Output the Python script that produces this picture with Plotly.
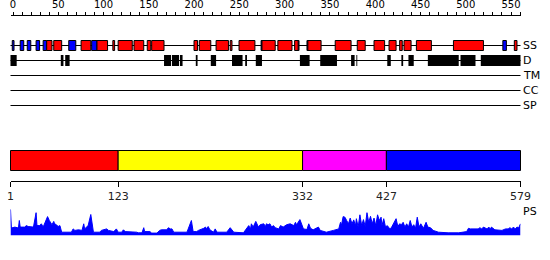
import plotly.graph_objects as go

# ---------------- data ----------------
SEQ_LEN = 579
ruler_ticks = list(range(0, 561, 10))          # ruler ticks (labels every 50)
ruler_labels = [str(v) if v % 50 == 0 else "" for v in ruler_ticks]

helix = [(42, 48), (50, 59), (81, 92), (99, 111), (117, 119), (123, 139), (141, 152),
         (156, 160), (161, 175), (209, 213), (215, 228), (234, 248), (250, 252),
         (260, 278), (286, 301), (304, 320), (323, 327), (338, 353), (369, 387),
         (394, 403), (413, 425), (430, 438), (442, 445), (447, 455), (461, 478),
         (503, 537), (572, 575)]
strand = [(3, 5), (12, 16), (20, 24), (30, 34), (38, 42), (67, 75), (93, 99),
          (285, 286), (327, 328), (337, 338), (559, 563)]
disorder = [(1, 8), (58, 61), (63, 68), (175, 183), (184, 192), (193, 196), (211, 213),
            (228, 234), (252, 264), (267, 269), (279, 286), (329, 340), (352, 371),
            (387, 391), (393, 394), (428, 432), (444, 446), (452, 458), (474, 509),
            (511, 528), (534, 579)]
track_names = ["SS", "D", "TM", "CC", "SP"]

domain_bounds = [1, 123, 332, 427, 579]
domain_colors = ["#ff0000", "#ffff00", "#ff00ff", "#0000ff"]

ps_residue = [1, 2, 6, 10, 11, 12, 17, 19, 21, 25, 27, 30, 31, 34, 36, 38, 40, 43, 45, 48,
              50, 51, 53, 55, 57, 59, 65, 70, 72, 74, 78, 82, 84, 85, 89, 92, 95, 99, 102,
              104, 110, 112, 118, 121, 123, 127, 129, 131, 138, 140, 144, 146, 150, 152,
              153, 159, 161, 167, 169, 170, 172, 178, 180, 182, 184, 186, 201, 206, 208,
              212, 214, 216, 220, 222, 223, 225, 227, 231, 233, 235, 246, 250, 254, 265,
              269, 271, 273, 274, 276, 279, 282, 284, 288, 290, 291, 293, 295, 297, 299,
              301, 305, 307, 310, 314, 318, 322, 324, 325, 327, 329, 333, 337, 339, 341,
              344, 350, 352, 359, 367, 373, 375, 376, 378, 380, 382, 384, 386, 388, 390,
              392, 393, 395, 397, 399, 401, 403, 405, 407, 409, 411, 413, 415, 417, 419,
              421, 422, 424, 426, 428, 431, 433, 435, 438, 440, 442, 444, 446, 448, 450,
              452, 454, 456, 458, 460, 462, 464, 466, 469, 472, 474, 477, 480, 486, 497,
              509, 518, 520, 522, 526, 529, 531, 533, 535, 537, 539, 541, 543, 545, 546,
              550, 558, 562, 565, 567, 569, 571, 573, 575, 577, 579]
ps_value = [0.87, 0.25, 0.28, 0.25, 0.50, 0.28, 0.28, 0.33, 0.30, 0.30, 0.28, 0.76, 0.33,
            0.33, 0.39, 0.28, 0.44, 0.63, 0.50, 0.36, 0.47, 0.39, 0.36, 0.30, 0.33, 0.11,
            0.11, 0.11, 0.22, 0.17, 0.19, 0.17, 0.39, 0.22, 0.33, 0.70, 0.11, 0.11, 0.11,
            0.17, 0.22, 0.17, 0.13, 0.22, 0.11, 0.11, 0.19, 0.13, 0.13, 0.13, 0.11, 0.09,
            0.09, 0.26, 0.13, 0.13, 0.08, 0.08, 0.17, 0.17, 0.19, 0.19, 0.26, 0.22, 0.22,
            0.11, 0.11, 0.50, 0.13, 0.13, 0.17, 0.19, 0.24, 0.28, 0.22, 0.30, 0.19, 0.11,
            0.22, 0.11, 0.11, 0.26, 0.11, 0.09, 0.28, 0.33, 0.22, 0.39, 0.28, 0.47, 0.28,
            0.36, 0.39, 0.30, 0.39, 0.36, 0.39, 0.28, 0.33,
            0.26, 0.22, 0.33, 0.28, 0.36, 0.39, 0.33, 0.44, 0.36, 0.44, 0.53, 0.22, 0.20,
            0.39, 0.24, 0.19, 0.28, 0.17, 0.11, 0.17, 0.22, 0.44, 0.33, 0.63, 0.61, 0.50,
            0.39, 0.58, 0.39, 0.52, 0.33, 0.56, 0.28, 0.69, 0.33, 0.53, 0.30, 0.76, 0.44,
            0.64, 0.39, 0.58, 0.33, 0.69, 0.50, 0.61, 0.33, 0.56, 0.28, 0.33, 0.22, 0.28,
            0.39, 0.56, 0.30, 0.39, 0.36, 0.44, 0.28, 0.39, 0.28, 0.50, 0.28, 0.36, 0.24,
            0.61, 0.28, 0.39, 0.24, 0.44, 0.28, 0.26, 0.17, 0.11, 0.09, 0.09, 0.13, 0.24,
            0.22, 0.22, 0.24, 0.22, 0.26, 0.22, 0.28, 0.24, 0.22, 0.28, 0.22, 0.28, 0.19,
            0.17, 0.22, 0.22, 0.26, 0.22, 0.28, 0.22, 0.28, 0.26, 0.39]

# ---------------- layout constants (pixels) ----------------
W, H = 550, 260
X_LEFT, X_RIGHT = 10.5, 520.5            # pixel span of residues 1..SEQ_LEN
s = (X_RIGHT - X_LEFT) / (SEQ_LEN - 1)
row_y = {"SS": 45.5, "D": 60.5, "TM": 75.5, "CC": 90.5, "SP": 105.5}
FONT = "DejaVu Sans"


def py(px):
    """pixel row -> paper fraction"""
    return (H - px) / H


fig = go.Figure()

# PS profile (own subplot x4/y2)
fig.add_trace(go.Scatter(x=ps_residue, y=ps_value, xaxis="x4", yaxis="y2", mode="lines",
                         line=dict(color="#0000ff", width=1), fill="tozeroy",
                         fillcolor="#0000ff", hoverinfo="skip", showlegend=False))
# invisible anchors for the two ruler subplots
fig.add_trace(go.Scatter(x=[0], y=[-5], xaxis="x2", yaxis="y3", mode="markers",
                         marker=dict(opacity=0), hoverinfo="skip", showlegend=False))
fig.add_trace(go.Scatter(x=[1], y=[-5], xaxis="x3", yaxis="y4", mode="markers",
                         marker=dict(opacity=0), hoverinfo="skip", showlegend=False))
fig.add_trace(go.Scatter(x=[1], y=[-50], xaxis="x", yaxis="y", mode="markers",
                         marker=dict(opacity=0), hoverinfo="skip", showlegend=False))

shapes = []
for name in track_names:
    shapes.append(dict(type="line", xref="x", yref="y", x0=1, x1=SEQ_LEN,
                       y0=row_y[name], y1=row_y[name], line=dict(color="black", width=1)))
for (a, b) in strand:
    shapes.append(dict(type="rect", xref="x", yref="y", x0=a, x1=b, y0=40.5, y1=50.5,
                       fillcolor="#0000ff", line=dict(color="black", width=1)))
for (a, b) in helix:
    shapes.append(dict(type="rect", xref="x", yref="y", x0=a, x1=b, y0=40.5, y1=50.5,
                       fillcolor="#ff0000", line=dict(color="black", width=1)))
for (a, b) in disorder:
    shapes.append(dict(type="rect", xref="x", yref="y", x0=a, x1=b, y0=55, y1=66,
                       fillcolor="black", line=dict(width=0)))
for i, c in enumerate(domain_colors):
    shapes.append(dict(type="rect", xref="x", yref="y", x0=domain_bounds[i],
                       x1=domain_bounds[i + 1], y0=150.5, y1=170.5, fillcolor=c,
                       line=dict(color="black", width=1)))

annotations = []
for name in track_names:
    annotations.append(dict(text=name, xref="paper", x=521 / W, xanchor="left",
                            yref="y", y=row_y[name], yanchor="middle", showarrow=False,
                            font=dict(family=FONT, size=11, color="black")))
annotations.append(dict(text="PS", xref="paper", x=521 / W, xanchor="left",
                        yref="y", y=211, yanchor="middle", showarrow=False,
                        font=dict(family=FONT, size=11, color="black")))

# top ruler scale
r_px0, r_scale = 13.0, 0.9055
r_lo = (11 - r_px0) / r_scale
r_hi = (521 - r_px0) / r_scale

hidden = dict(visible=False, fixedrange=True, automargin=False)
fig.update_layout(
    width=W, height=H, margin=dict(l=0, r=0, t=0, b=0, pad=0, autoexpand=False),
    autosize=False,
    paper_bgcolor="white", plot_bgcolor="rgba(0,0,0,0)",
    shapes=shapes, annotations=annotations, showlegend=False,
    xaxis=dict(hidden, domain=[0, 1], anchor="y",
               range=[1 - X_LEFT / s, 1 + (W - X_LEFT) / s]),
    yaxis=dict(hidden, domain=[0, 1], anchor="x", range=[H, 0]),
    xaxis4=dict(hidden, domain=[X_LEFT / W, X_RIGHT / W], anchor="y2", range=[1, SEQ_LEN]),
    yaxis2=dict(hidden, anchor="x4", domain=[py(235.5), py(205.5)], range=[0, 1]),
    yaxis3=dict(hidden, anchor="x2", domain=[py(15.5) - 0.01, py(15.5)], range=[0, 1]),
    yaxis4=dict(hidden, anchor="x3", domain=[py(180.5), py(180.5) + 0.01], range=[0, 1]),
    xaxis2=dict(anchor="y3", side="top", domain=[11 / W, 521 / W], range=[r_lo, r_hi],
                showline=True, linecolor="black", linewidth=1,
                ticks="outside", ticklen=3, tickcolor="black", tickwidth=1,
                tickvals=ruler_ticks, ticktext=ruler_labels,
                tickfont=dict(family=FONT, size=10, color="black"),
                showgrid=False, zeroline=False, fixedrange=True, automargin=False),
    xaxis3=dict(anchor="y4", side="bottom", domain=[X_LEFT / W, X_RIGHT / W],
                range=[1, SEQ_LEN],
                showline=True, linecolor="black", linewidth=1,
                ticks="outside", ticklen=5, tickcolor="black", tickwidth=1,
                tickvals=domain_bounds, ticktext=[str(v) for v in domain_bounds],
                tickfont=dict(family=FONT, size=11, color="#222"),
                showgrid=False, zeroline=False, fixedrange=True, automargin=False),
)

fig.write_html("out.html")
